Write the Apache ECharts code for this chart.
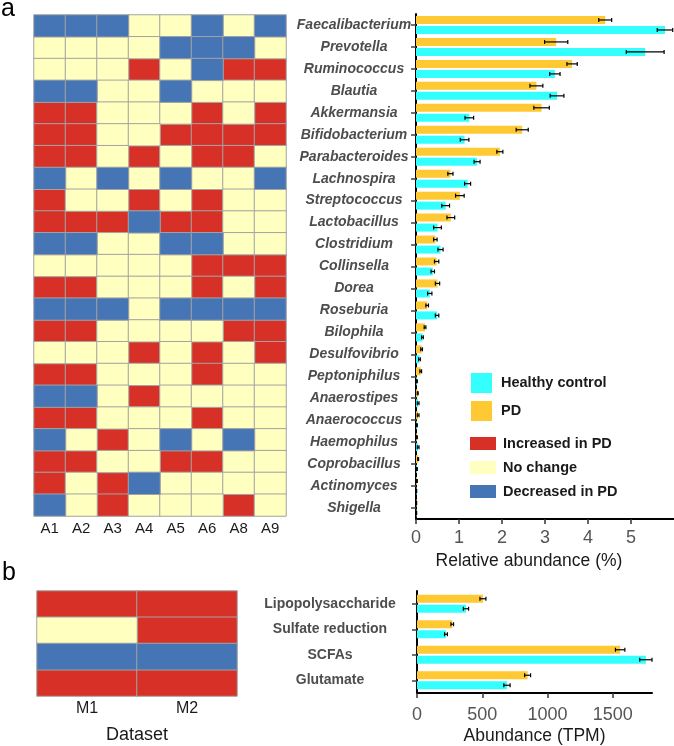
<!DOCTYPE html>
<html><head><meta charset="utf-8">
<script src="https://cdn.jsdelivr.net/npm/echarts@6/dist/echarts.min.js"></script>
<style>html,body{margin:0;padding:0;background:#fff}#c{width:674px;height:746px}</style>
</head><body><div id="c"></div>
<script>
// ---------- Panel a data ----------
const genera = ['Faecalibacterium','Prevotella','Ruminococcus','Blautia','Akkermansia','Bifidobacterium','Parabacteroides','Lachnospira','Streptococcus','Lactobacillus','Clostridium','Collinsella','Dorea','Roseburia','Bilophila','Desulfovibrio','Peptoniphilus','Anaerostipes','Anaerococcus','Haemophilus','Coprobacillus','Actinomyces','Shigella'];
const datasetsA = ['A1','A2','A3','A4','A5','A6','A8','A9'];
// 1 = increased in PD, 0 = no change, -1 = decreased in PD
const statusA = [
  [-1,-1,-1,0,0,-1,0,-1],
  [0,0,0,0,-1,-1,-1,0],
  [0,0,0,1,0,-1,1,1],
  [-1,-1,0,0,-1,0,0,0],
  [1,1,0,0,0,1,0,1],
  [1,1,0,0,1,1,1,1],
  [1,1,0,1,0,1,1,0],
  [-1,0,-1,0,-1,0,0,-1],
  [1,0,0,1,0,1,0,0],
  [1,1,1,-1,1,1,0,0],
  [-1,-1,0,0,-1,-1,0,0],
  [0,0,0,0,0,1,1,1],
  [1,1,0,0,0,1,0,1],
  [-1,-1,-1,0,-1,-1,-1,-1],
  [1,1,0,0,0,0,1,1],
  [0,0,0,1,0,1,0,1],
  [1,1,0,0,0,1,0,0],
  [-1,-1,0,1,0,0,0,0],
  [1,1,0,0,0,1,0,0],
  [-1,0,1,0,-1,0,-1,0],
  [1,1,0,0,1,1,0,0],
  [1,0,1,-1,0,0,0,0],
  [-1,0,1,0,0,0,1,0]
];
const pdMean = [4.40,3.26,3.63,2.80,2.92,2.47,1.95,0.80,1.02,0.81,0.45,0.48,0.50,0.26,0.21,0.13,0.11,0.04,0.05,0.02,0.05,0.02,0.01];
const pdErr  = [0.15,0.27,0.12,0.15,0.18,0.14,0.07,0.06,0.10,0.09,0.04,0.05,0.05,0.03,0.02,0.02,0.02,0.01,0.02,0.01,0.01,0.01,0.005];
const hcMean = [5.79,5.33,3.23,3.28,1.24,1.13,1.42,1.20,0.69,0.50,0.57,0.39,0.32,0.49,0.15,0.08,0.02,0.05,0.02,0.05,0.02,0.01,0.01];
const hcErr  = [0.18,0.44,0.12,0.16,0.10,0.10,0.07,0.07,0.09,0.09,0.06,0.04,0.05,0.04,0.02,0.02,0.01,0.02,0.01,0.02,0.01,0.005,0.005];
const relTicks = [0,1,2,3,4,5];

// ---------- Panel b data ----------
const pathways = ['Lipopolysaccharide','Sulfate reduction','SCFAs','Glutamate'];
const datasetsB = ['M1','M2'];
const statusB = [[1,1],[0,1],[-1,-1],[1,1]];
const pdTPM    = [505,270,1556,847];
const pdTPMErr = [23,10,36,23];
const hcTPM    = [375,222,1753,689];
const hcTPMErr = [20,11,47,24];
const tpmTicks = [0,500,1000,1500];

// ---------- styling ----------
const FONT = 'Liberation Sans, Arial, Helvetica, sans-serif';
const C_UP = '#D73027', C_NO = '#FFFFBF', C_DOWN = '#4575B4';
const C_PD = '#FFC933', C_HC = '#33FFFF';
const states = [
  {v: 1, name: 'Increased in PD', color: C_UP},
  {v: 0, name: 'No change', color: C_NO},
  {v: -1, name: 'Decreased in PD', color: C_DOWN}
];

function cells(matrix, v) {
  const out = [];
  matrix.forEach((row, r) => row.forEach((s, c) => { if (s === v) out.push([c, r, 1]); }));
  return out;
}
function errData(means, errs, side) {
  return means.map((m, i) => [i, m, errs[i], side]);
}
function errRender(params, api) {
  const cat = api.value(0), v = api.value(1), e = api.value(2), side = api.value(3);
  const lo = api.coord([v - e, cat]);
  const hi = api.coord([v + e, cat]);
  const y = lo[1] + side * 5;
  const st = {stroke: '#000', lineWidth: 1.2};
  return {type: 'group', children: [
    {type: 'line', shape: {x1: lo[0], y1: y, x2: hi[0], y2: y}, style: st},
    {type: 'line', shape: {x1: lo[0], y1: y - 2, x2: lo[0], y2: y + 2}, style: st},
    {type: 'line', shape: {x1: hi[0], y1: y - 2, x2: hi[0], y2: y + 2}, style: st}
  ]};
}

const series = [];
states.forEach(s => {
  series.push({type: 'heatmap', name: s.name, xAxisIndex: 0, yAxisIndex: 0, data: cells(statusA, s.v),
    itemStyle: {color: s.color, borderColor: '#a3a3a3', borderWidth: 1}, emphasis: {disabled: true}});
  series.push({type: 'heatmap', name: s.name, xAxisIndex: 2, yAxisIndex: 2, data: cells(statusB, s.v),
    itemStyle: {color: s.color, borderColor: '#a3a3a3', borderWidth: 1}, emphasis: {disabled: true}});
});
series.push(
  {type: 'bar', name: 'PD', xAxisIndex: 1, yAxisIndex: 1, data: pdMean, barWidth: 8, barGap: '25%', itemStyle: {color: C_PD}},
  {type: 'bar', name: 'Healthy control', xAxisIndex: 1, yAxisIndex: 1, data: hcMean, barWidth: 8, barGap: '25%', itemStyle: {color: C_HC}},
  {type: 'custom', xAxisIndex: 1, yAxisIndex: 1, data: errData(pdMean, pdErr, -1), encode: {x: 1, y: 0}, renderItem: errRender, z: 5},
  {type: 'custom', xAxisIndex: 1, yAxisIndex: 1, data: errData(hcMean, hcErr, 1), encode: {x: 1, y: 0}, renderItem: errRender, z: 5},
  {type: 'bar', name: 'PD', xAxisIndex: 3, yAxisIndex: 3, data: pdTPM, barWidth: 8, barGap: '25%', itemStyle: {color: C_PD}},
  {type: 'bar', name: 'Healthy control', xAxisIndex: 3, yAxisIndex: 3, data: hcTPM, barWidth: 8, barGap: '25%', itemStyle: {color: C_HC}},
  {type: 'custom', xAxisIndex: 3, yAxisIndex: 3, data: errData(pdTPM, pdTPMErr, -1), encode: {x: 1, y: 0}, renderItem: errRender, z: 5},
  {type: 'custom', xAxisIndex: 3, yAxisIndex: 3, data: errData(hcTPM, hcTPMErr, 1), encode: {x: 1, y: 0}, renderItem: errRender, z: 5}
);

const axisBlack = {show: true, lineStyle: {color: '#000', width: 2}};
const tickLbl = {fontSize: 18, color: '#555', fontFamily: FONT, formatter: v => String(v)};

const option = {
  animation: false,
  textStyle: {fontFamily: FONT},
  grid: [
    {left: 34, top: 15, width: 252, height: 501},
    {left: 416, top: 14, width: 258, height: 505},
    {left: 37, top: 591, width: 200, height: 105},
    {left: 417, top: 591, width: 235, height: 102}
  ],
  xAxis: [
    {type: 'category', gridIndex: 0, data: datasetsA, axisLine: {show: false}, axisTick: {show: false},
     axisLabel: {fontSize: 15, color: '#1a1a1a', margin: 5}},
    {type: 'value', gridIndex: 1, min: 0, max: 6, interval: 1, axisLine: axisBlack, splitLine: {show: false},
     axisTick: {show: true, length: 5, lineStyle: {color: '#333', width: 1.5}, customValues: relTicks},
     axisLabel: Object.assign({margin: 10, customValues: relTicks}, tickLbl),
     name: 'Relative abundance (%)', nameLocation: 'middle', nameGap: 26,
     nameTextStyle: {fontSize: 17.5, color: '#1a1a1a', padding: [0, 32, 0, 0]}},
    {type: 'category', gridIndex: 2, data: datasetsB, axisLine: {show: false}, axisTick: {show: false},
     axisLabel: {fontSize: 16, color: '#1a1a1a', margin: 5},
     name: 'Dataset', nameLocation: 'middle', nameGap: 30, nameTextStyle: {fontSize: 18, color: '#1a1a1a'}},
    {type: 'value', gridIndex: 3, min: 0, max: 1800, interval: 500, axisLine: axisBlack, splitLine: {show: false},
     axisTick: {show: true, length: 5, lineStyle: {color: '#333', width: 1.5}, customValues: tpmTicks},
     axisLabel: Object.assign({margin: 13, customValues: tpmTicks}, tickLbl),
     name: 'Abundance (TPM)', nameLocation: 'middle', nameGap: 34,
     nameTextStyle: {fontSize: 17.5, color: '#1a1a1a'}}
  ],
  yAxis: [
    {type: 'category', gridIndex: 0, data: genera, inverse: true, show: false},
    {type: 'category', gridIndex: 1, data: genera, inverse: true, axisLine: axisBlack,
     axisTick: {show: true, alignWithLabel: true, length: 5, lineStyle: {color: '#444', width: 1.5}},
     axisLabel: {fontSize: 14, fontWeight: 'bold', fontStyle: 'italic', color: '#4d4d4d', align: 'center', margin: 62}},
    {type: 'category', gridIndex: 2, data: pathways, inverse: true, show: false},
    {type: 'category', gridIndex: 3, data: pathways, inverse: true, axisLine: axisBlack,
     axisTick: {show: true, alignWithLabel: true, length: 5, lineStyle: {color: '#444', width: 1.5}},
     axisLabel: {fontSize: 14, fontWeight: 'bold', color: '#4d4d4d', align: 'center', margin: 87}}
  ],
  legend: [
    {data: ['Healthy control', 'PD'], orient: 'vertical', left: 466, top: 368, itemWidth: 21, itemHeight: 20, itemGap: 8,
     icon: 'rect', selectedMode: false, textStyle: {fontSize: 14.5, fontWeight: 'bold', color: '#1a1a1a', padding: [0, 0, 0, 4]}},
    {data: ['Increased in PD', 'No change', 'Decreased in PD'], orient: 'vertical', left: 465, top: 431, itemWidth: 26, itemHeight: 13, itemGap: 9,
     icon: 'rect', selectedMode: false, itemStyle: {borderWidth: 0},
     textStyle: {fontSize: 14.5, fontWeight: 'bold', color: '#1a1a1a', padding: [0, 0, 0, 2]}}
  ],
  graphic: [
    {type: 'text', left: 1, top: -3, style: {text: 'a', font: '25px ' + FONT, fill: '#000'}},
    {type: 'text', left: 2, top: 561, style: {text: 'b', font: '25px ' + FONT, fill: '#000'}}
  ],
  series: series
};
const chart = echarts.init(document.getElementById('c'), null, {renderer: 'canvas'});
chart.setOption(option);
</script></body></html>
